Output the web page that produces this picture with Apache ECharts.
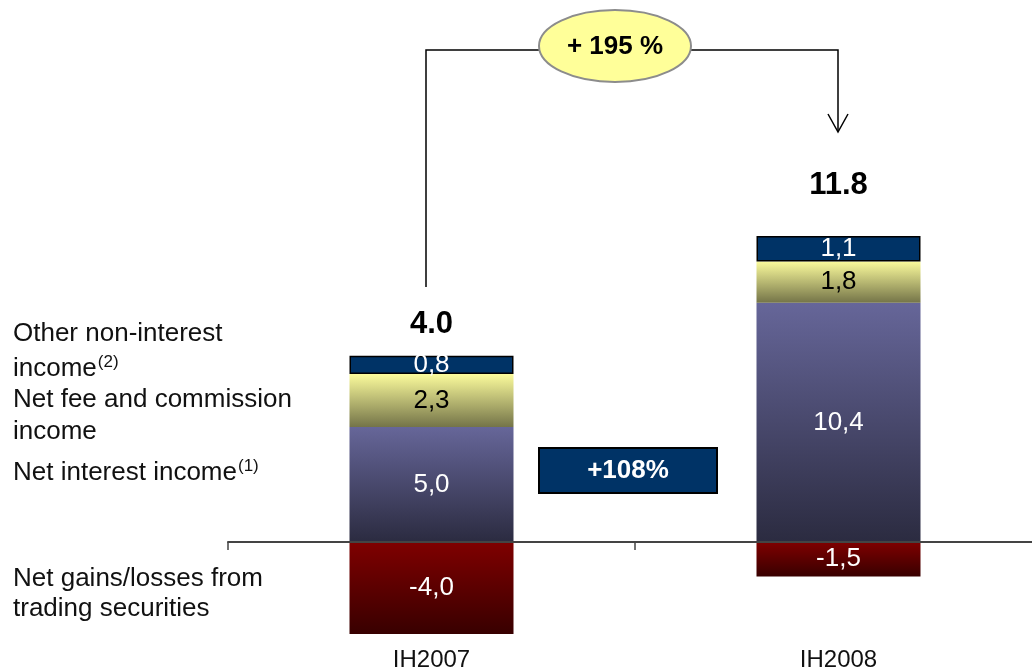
<!DOCTYPE html>
<html>
<head>
<meta charset="utf-8">
<script src="https://cdn.jsdelivr.net/npm/echarts@6/dist/echarts.min.js"></script>
<style>
  html, body { margin: 0; padding: 0; background: #ffffff; }
  #chart { width: 1032px; height: 670px; }
</style>
</head>
<body>
<div id="chart"></div>
<script>
// Operating income breakdown, IH2007 vs IH2008
const categories = ['IH2007', 'IH2008'];
const tradingGains = [-4.0, -1.5];   // Net gains/losses from trading securities
const netInterest = [5.0, 10.4];     // Net interest income
const netFees = [2.3, 1.8];          // Net fee and commission income
const otherIncome = [0.8, 1.1];      // Other non-interest income
const totals = [4.0, 11.8];
const totalGrowth = '+ 195 %';
const interestGrowth = '+108%';

const FONT = '"Liberation Sans", Arial, Helvetica, sans-serif';

const comma = v => v.toFixed(1).replace('.', ',');

function vGrad(top, bottom) {
  return new echarts.graphic.LinearGradient(0, 0, 0, 1, [
    { offset: 0, color: top },
    { offset: 1, color: bottom }
  ]);
}

function innerLabel(color) {
  return {
    show: true,
    position: 'inside',
    color: color,
    fontFamily: FONT,
    fontSize: 26,
    formatter: p => comma(p.value)
  };
}

const chart = echarts.init(document.getElementById('chart'), null, { renderer: 'canvas' });

const totalDistances = [16, 35];

const supText = {
  m: { fontFamily: FONT, fontSize: 26, lineHeight: 32, verticalAlign: 'bottom' },
  s: { fontFamily: FONT, fontSize: 17, lineHeight: 32, verticalAlign: 'top', padding: [4, 0, 0, 1] }
};

chart.setOption({
  backgroundColor: '#ffffff',
  animation: false,
  grid: {
    left: 228, width: 814, top: 197, bottom: 24.5,
    containLabel: false, outerBoundsMode: 'none'
  },
  xAxis: [
    {
      // baseline through zero with the category dividers
      type: 'category',
      data: categories,
      z: 5,
      axisLine: { onZero: true, lineStyle: { color: '#444444', width: 2 } },
      axisTick: { show: true, length: 8, lineStyle: { color: '#444444', width: 1.5 } },
      axisLabel: { show: false }
    },
    {
      // category names under the stacks
      type: 'category',
      data: categories,
      position: 'bottom',
      axisLine: { show: false, onZero: false },
      axisTick: { show: false },
      axisLabel: { margin: 3, color: '#111111', fontFamily: FONT, fontSize: 24 }
    }
  ],
  yAxis: {
    type: 'value',
    min: -4.5,
    max: 15,
    show: false,
    splitLine: { show: false }
  },
  series: [
    {
      name: 'Net gains/losses from trading securities',
      type: 'bar', stack: 'income', barWidth: 164,
      data: tradingGains,
      itemStyle: { color: vGrad('#7f0000', '#380000') },
      label: innerLabel('#ffffff')
    },
    {
      name: 'Net interest income',
      type: 'bar', stack: 'income', barWidth: 164,
      data: netInterest,
      itemStyle: { color: vGrad('#666699', '#2b2b40') },
      label: innerLabel('#ffffff')
    },
    {
      name: 'Net fee and commission income',
      type: 'bar', stack: 'income', barWidth: 164,
      data: netFees,
      itemStyle: { color: vGrad('#fbfb9c', '#747448') },
      label: innerLabel('#000000')
    },
    {
      name: 'Other non-interest income',
      type: 'bar', stack: 'income', barWidth: 164,
      data: otherIncome,
      itemStyle: { color: '#003366', borderColor: '#000000', borderWidth: 1.5 },
      label: innerLabel('#ffffff')
    },
    {
      // zero-height cap carrying the total above each stack
      name: 'Total',
      type: 'bar', stack: 'income', barWidth: 164,
      data: totals.map((t, i) => ({
        value: 0,
        label: {
          show: true,
          position: 'top',
          distance: totalDistances[i],
          formatter: t.toFixed(1),
          fontFamily: FONT,
          fontSize: 31,
          fontWeight: 'bold',
          color: '#000000'
        }
      })),
      itemStyle: { color: 'transparent' }
    }
  ],
  graphic: [
    // category captions on the left
    { type: 'text', left: 13, top: 321, style: { text: 'Other non-interest', font: '26px ' + FONT, fill: '#111111' } },
    { type: 'text', left: 13, top: 350, style: { text: '{m|income}{s|(2)}', fill: '#111111', rich: supText } },
    { type: 'text', left: 13, top: 387, style: { text: 'Net fee and commission', font: '26px ' + FONT, fill: '#111111' } },
    { type: 'text', left: 13, top: 419, style: { text: 'income', font: '26px ' + FONT, fill: '#111111' } },
    { type: 'text', left: 13, top: 454, style: { text: '{m|Net interest income}{s|(1)}', fill: '#111111', rich: supText } },
    { type: 'text', left: 13, top: 566, style: { text: 'Net gains/losses from', font: '26px ' + FONT, fill: '#111111' } },
    { type: 'text', left: 13, top: 596, style: { text: 'trading securities', font: '26px ' + FONT, fill: '#111111' } },

    // growth connector between the two totals
    {
      type: 'polyline', z: 10,
      shape: { points: [[426, 287], [426, 50], [838, 50], [838, 131]] },
      style: { stroke: '#000000', lineWidth: 1.5, fill: null }
    },
    {
      type: 'polyline', z: 10,
      shape: { points: [[828, 114], [838, 132], [848, 114]] },
      style: { stroke: '#000000', lineWidth: 1.5, fill: null }
    },
    {
      type: 'ellipse', z: 11,
      shape: { cx: 615, cy: 46, rx: 76, ry: 36 },
      style: { fill: '#ffff99', stroke: '#8c8c8c', lineWidth: 2 }
    },
    {
      type: 'text', z: 12, x: 615, y: 47,
      style: {
        text: totalGrowth, font: 'bold 26px ' + FONT, fill: '#000000',
        align: 'center', verticalAlign: 'middle'
      }
    },

    // net interest income growth badge
    {
      type: 'rect', z: 10,
      shape: { x: 539, y: 448, width: 178, height: 45 },
      style: { fill: '#003366', stroke: '#000000', lineWidth: 2 }
    },
    {
      type: 'text', z: 11, x: 628, y: 471,
      style: {
        text: interestGrowth, font: 'bold 26px ' + FONT, fill: '#ffffff',
        align: 'center', verticalAlign: 'middle'
      }
    }
  ]
});
</script>
</body>
</html>
